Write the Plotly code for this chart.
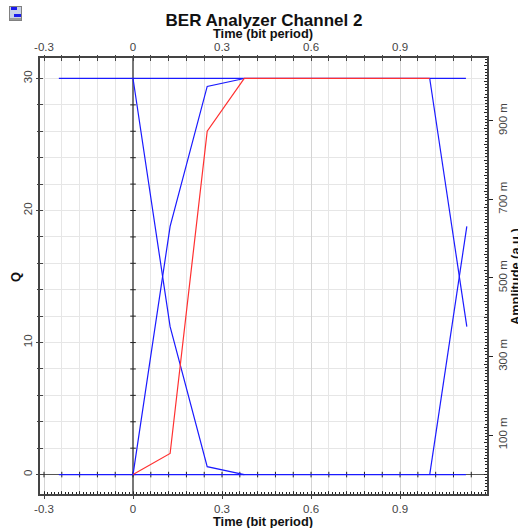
import plotly.graph_objects as go

# ---- data ----
TITLE = "BER Analyzer Channel 2"
X_LABEL = "Time (bit period)"
Y_LABEL = "Q"
Y2_LABEL = "Amplitude (a.u.)"

top_x = [-0.25, 1.122]
top_y = [30, 30]
floor_x = [-0.25, 1.122]
floor_y = [0, 0]
fall_x = [0, 0.125, 0.25, 0.375]
fall_y = [30, 11.2, 0.6, 0]
rise_x = [0, 0.125, 0.25, 0.375]
rise_y = [0, 18.8, 29.4, 30]
next_fall_x = [1.0, 1.125]
next_fall_y = [30, 11.2]
next_rise_x = [1.0, 1.125]
next_rise_y = [0, 18.8]
red_x = [0, 0.125, 0.25, 0.375, 1.0]
red_y = [0, 1.6, 26, 30, 30]

x_ticks = [-0.3, 0, 0.3, 0.6, 0.9]
x_labels = ["-0.3", "0", "0.3", "0.6", "0.9"]
y_ticks = [0, 10, 20, 30]
y2_ticks = [0.1, 0.3, 0.5, 0.7, 0.9]
y2_labels = ["100 m", "300 m", "500 m", "700 m", "900 m"]

x_small = [round(-0.3 + 0.06 * i, 2) for i in range(25)]
y_small = [2 * i for i in range(16)]

XR = [-0.3135, 1.193]
YR = [-1.47, 31.55]
Y2R = [-0.05, 1.06]

W, H = 518, 528
L, R, T, B = 40, 31, 58, 34
PW, PH = W - L - R, H - T - B

BLUE = "#1a1aff"
RED = "#ff3030"
TXT = "#444444"
AX = "#444444"
FONT = "Liberation Sans"

fig = go.Figure()

# crossing axes' tick marks, on top of the zero lines
fig.add_trace(go.Scatter(x=x_small, y=[0] * len(x_small), mode="markers", hoverinfo="skip",
                         marker=dict(symbol="line-ns", size=4, line=dict(width=1, color="#222222"))))
fig.add_trace(go.Scatter(x=[0] * len(y_small), y=y_small, mode="markers", hoverinfo="skip",
                         marker=dict(symbol="line-ew", size=4, line=dict(width=1, color="#222222"))))

for xs, ys in [(top_x, top_y), (floor_x, floor_y), (fall_x, fall_y), (rise_x, rise_y),
               (next_fall_x, next_fall_y), (next_rise_x, next_rise_y)]:
    fig.add_trace(go.Scatter(x=xs, y=ys, mode="lines", hoverinfo="skip",
                             line=dict(color=BLUE, width=1.2)))
fig.add_trace(go.Scatter(x=red_x, y=red_y, mode="lines", hoverinfo="skip",
                         line=dict(color=RED, width=1.2)))
# carriers for secondary axes
fig.add_trace(go.Scatter(x=[None], y=[None], xaxis="x2", yaxis="y2", hoverinfo="skip"))
fig.add_trace(go.Scatter(x=[None], y=[None], xaxis="x3", yaxis="y3", hoverinfo="skip"))
fig.add_trace(go.Scatter(x=[None], y=[None], xaxis="x4", yaxis="y4", hoverinfo="skip"))

grid_major = "#d4d4d4"
grid_minor = "#e6e6e6"
tickfont = dict(family=FONT, size=11.5, color=TXT)
labelfont = dict(family=FONT, size=12.8, color="#111111")


def label(text, px, py, angle=0):
    return dict(text=f"<b>{text}</b>", textangle=angle, xref="paper", yref="paper",
                x=(px - L) / PW, y=1 - (py - T) / PH, xanchor="center", yanchor="middle",
                showarrow=False, font=labelfont)


fig.update_layout(
    width=W, height=H, autosize=False, showlegend=False,
    paper_bgcolor="white", plot_bgcolor="white",
    margin=dict(l=L, r=R, t=T, b=B, pad=0, autoexpand=False),
    title=dict(text=f"<b>{TITLE}</b>", x=264 / W, xanchor="center", y=1 - 20 / H, yanchor="middle",
               font=dict(family=FONT, size=17, color="#111111")),
    xaxis=dict(range=XR, tickmode="array", tickvals=x_ticks, ticktext=x_labels, side="bottom",
               ticks="outside", ticklen=3, tickcolor=AX, tickfont=tickfont, automargin=False,
               showline=True, linecolor=AX, linewidth=2, mirror=False,
               showgrid=True, gridcolor=grid_major, gridwidth=1,
               zeroline=True, zerolinecolor="#777777", zerolinewidth=2,
               minor=dict(tickmode="array", tickvals=x_small, ticks="inside", ticklen=3,
                          tickcolor=AX, showgrid=True, gridcolor=grid_minor, gridwidth=1)),
    yaxis=dict(range=YR, tickmode="array", tickvals=y_ticks, tickangle=-90, side="left",
               ticks="outside", ticklen=2, tickcolor=AX, tickfont=tickfont, automargin=False,
               showline=True, linecolor=AX, linewidth=1.5,
               showgrid=True, gridcolor=grid_minor, gridwidth=1,
               zeroline=True, zerolinecolor="#555555", zerolinewidth=1,
               minor=dict(tickmode="array", tickvals=y_small, ticks="inside", ticklen=3,
                          tickcolor=AX, showgrid=True, gridcolor=grid_minor, gridwidth=1)),
    xaxis2=dict(range=XR, overlaying="x", side="top", anchor="y2", tickmode="array",
                tickvals=x_ticks, ticktext=x_labels, ticks="outside", ticklen=1, tickcolor=AX,
                tickfont=tickfont, showline=True, linecolor=AX, linewidth=1.5, automargin=False,
                showgrid=False, zeroline=False,
                minor=dict(tickmode="array", tickvals=x_small, ticks="inside", ticklen=3, tickcolor=AX)),
    yaxis2=dict(range=Y2R, overlaying="y", side="right", anchor="x2", tickmode="array",
                tickvals=y2_ticks, ticktext=y2_labels, tickangle=-90, ticks="outside", ticklen=4,
                tickcolor="#222222", tickfont=tickfont, showline=True, linecolor=AX, linewidth=2,
                showgrid=False, zeroline=False, automargin=False,
                minor=dict(dtick=0.04, ticks="inside", ticklen=3, tickcolor="#222222")),
    # fine dotted scales along bottom and right edges
    xaxis3=dict(range=XR, overlaying="x", side="bottom", anchor="y3", dtick=0.012, tick0=0,
                ticks="inside", ticklen=2, tickcolor="#222222", showticklabels=False,
                showgrid=False, zeroline=False, automargin=False),
    yaxis3=dict(range=Y2R, overlaying="y", side="right", anchor="x3", dtick=0.008, tick0=0,
                ticks="inside", ticklen=2, tickcolor="#222222", showticklabels=False,
                showgrid=False, zeroline=False, automargin=False),
    # outer half of the small ticks that straddle the top and left edges
    xaxis4=dict(range=XR, overlaying="x", side="top", anchor="y4", tickmode="array", tickvals=x_small,
                ticks="outside", ticklen=2, tickcolor=AX, showticklabels=False,
                showgrid=False, zeroline=False, automargin=False),
    yaxis4=dict(range=YR, overlaying="y", side="left", anchor="x4", tickmode="array", tickvals=y_small,
                ticks="outside", ticklen=2, tickcolor=AX, showticklabels=False,
                showgrid=False, zeroline=False, automargin=False),
    annotations=[
        label(X_LABEL, 262.5, 34),
        label(X_LABEL, 262.5, 521),
        label(Y_LABEL, 15, 277, -90),
        label(Y2_LABEL, 515, 277, -90),
    ],
    # small window icon at the top left
    shapes=[
        dict(type="rect", xref="paper", yref="paper", layer="above", line_width=0, fillcolor=c,
             x0=(x0 - L) / PW, x1=(x1 - L) / PW,
             y0=1 - (y1 - T) / PH, y1=1 - (y0 - T) / PH)
        for c, x0, y0, x1, y1 in [
            ("#808080", 9, 6, 22, 21), ("#c8d0e8", 10, 7, 21, 20),
            ("#1a1aee", 11, 7, 17, 10), ("#1a1aee", 14, 14, 21, 17),
            ("#9a9a9a", 10, 18, 21, 20),
        ]
    ],
)

fig.write_html("out.html", config={"displayModeBar": False},
               post_script="document.body.style.margin='0';document.body.style.overflow='hidden';")
